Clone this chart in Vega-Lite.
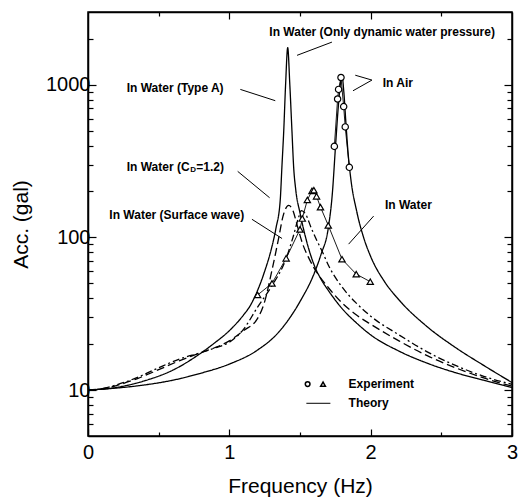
{
 "$schema": "https://vega.github.io/schema/vega-lite/v6.json",
 "width": 424, "height": 424,
 "autosize": {"type": "none"},
 "padding": {"left": 88, "top": 12, "right": 9, "bottom": 64},
 "background": "white",
 "config": {
  "view": {"stroke": "black", "strokeWidth": 1.5},
  "font": "Liberation Sans",
  "axis": {"grid": false, "domainColor": "black", "domainWidth": 1.5, "tickColor": "black", "tickWidth": 1.2, "labelColor": "black", "titleColor": "black", "labelFont": "Liberation Sans", "titleFont": "Liberation Sans"}
 },
 "datasets": {
  "curves": [
   {"s":"A","f":0,"v":10},{"s":"A","f":0.2,"v":10.4},{"s":"A","f":0.4,"v":11.5},{"s":"A","f":0.6,"v":13.5},{"s":"A","f":0.8,"v":17.5},{"s":"A","f":0.9,"v":20.5},{"s":"A","f":1.0,"v":24.5},{"s":"A","f":1.1,"v":31},{"s":"A","f":1.15,"v":36},{"s":"A","f":1.2,"v":45},{"s":"A","f":1.25,"v":60},{"s":"A","f":1.3,"v":86},{"s":"A","f":1.33,"v":115},{"s":"A","f":1.36,"v":175},{"s":"A","f":1.372,"v":290},{"s":"A","f":1.385,"v":500},{"s":"A","f":1.398,"v":1000},{"s":"A","f":1.413,"v":1750},{"s":"A","f":1.428,"v":1000},{"s":"A","f":1.443,"v":500},{"s":"A","f":1.455,"v":290},{"s":"A","f":1.47,"v":205},{"s":"A","f":1.5,"v":145},{"s":"A","f":1.55,"v":92},{"s":"A","f":1.6,"v":66},{"s":"A","f":1.65,"v":53},{"s":"A","f":1.7,"v":45},{"s":"A","f":1.8,"v":34},{"s":"A","f":1.9,"v":27.5},{"s":"A","f":2.0,"v":23},{"s":"A","f":2.2,"v":18},{"s":"A","f":2.4,"v":15},{"s":"A","f":2.6,"v":13},{"s":"A","f":2.8,"v":11.6},{"s":"A","f":3.0,"v":10.4},
   {"s":"B","f":0,"v":10},{"s":"B","f":0.2,"v":10.3},{"s":"B","f":0.4,"v":10.8},{"s":"B","f":0.6,"v":11.6},{"s":"B","f":0.8,"v":12.9},{"s":"B","f":1.0,"v":14.8},{"s":"B","f":1.2,"v":18.3},{"s":"B","f":1.35,"v":24},{"s":"B","f":1.5,"v":38},{"s":"B","f":1.6,"v":58},{"s":"B","f":1.65,"v":78},{"s":"B","f":1.7,"v":115},{"s":"B","f":1.73,"v":200},{"s":"B","f":1.75,"v":380},{"s":"B","f":1.77,"v":700},{"s":"B","f":1.785,"v":1000},{"s":"B","f":1.797,"v":1150},{"s":"B","f":1.81,"v":900},{"s":"B","f":1.825,"v":560},{"s":"B","f":1.84,"v":360},{"s":"B","f":1.86,"v":240},{"s":"B","f":1.9,"v":150},{"s":"B","f":1.95,"v":100},{"s":"B","f":2.0,"v":75},{"s":"B","f":2.1,"v":51},{"s":"B","f":2.2,"v":39},{"s":"B","f":2.4,"v":26},{"s":"B","f":2.6,"v":19},{"s":"B","f":2.8,"v":14.5},{"s":"B","f":3.0,"v":11.2},
   {"s":"C","f":0,"v":10},{"s":"C","f":0.1,"v":10.2},{"s":"C","f":0.2,"v":10.7},{"s":"C","f":0.35,"v":11.9},{"s":"C","f":0.5,"v":13.6},{"s":"C","f":0.65,"v":15.6},{"s":"C","f":0.8,"v":17.6},{"s":"C","f":0.9,"v":19},{"s":"C","f":1.0,"v":21},{"s":"C","f":1.1,"v":24.5},{"s":"C","f":1.2,"v":29.5},{"s":"C","f":1.25,"v":38},{"s":"C","f":1.3,"v":60},{"s":"C","f":1.35,"v":100},{"s":"C","f":1.38,"v":138},{"s":"C","f":1.42,"v":162},{"s":"C","f":1.45,"v":150},{"s":"C","f":1.48,"v":120},{"s":"C","f":1.52,"v":90},{"s":"C","f":1.56,"v":74},{"s":"C","f":1.6,"v":63},{"s":"C","f":1.7,"v":47},{"s":"C","f":1.8,"v":37},{"s":"C","f":1.9,"v":31},{"s":"C","f":2.0,"v":27},{"s":"C","f":2.2,"v":21},{"s":"C","f":2.4,"v":16.8},{"s":"C","f":2.6,"v":14},{"s":"C","f":2.8,"v":12},{"s":"C","f":3.0,"v":10.6},
   {"s":"D","f":0,"v":10},{"s":"D","f":0.1,"v":10.2},{"s":"D","f":0.2,"v":10.8},{"s":"D","f":0.35,"v":12.1},{"s":"D","f":0.5,"v":14},{"s":"D","f":0.65,"v":16},{"s":"D","f":0.8,"v":17.6},{"s":"D","f":0.9,"v":18.9},{"s":"D","f":1.0,"v":20.6},{"s":"D","f":1.1,"v":25},{"s":"D","f":1.2,"v":35},{"s":"D","f":1.3,"v":48},{"s":"D","f":1.4,"v":72},{"s":"D","f":1.45,"v":100},{"s":"D","f":1.49,"v":135},{"s":"D","f":1.51,"v":150},{"s":"D","f":1.54,"v":142},{"s":"D","f":1.58,"v":115},{"s":"D","f":1.62,"v":95},{"s":"D","f":1.66,"v":80},{"s":"D","f":1.7,"v":66},{"s":"D","f":1.8,"v":47},{"s":"D","f":1.9,"v":37},{"s":"D","f":2.0,"v":30.5},{"s":"D","f":2.2,"v":23},{"s":"D","f":2.4,"v":17.8},{"s":"D","f":2.6,"v":14.5},{"s":"D","f":2.8,"v":12.3},{"s":"D","f":3.0,"v":10.9}
  ],
  "air": [
   {"f":1.743,"v":395},{"f":1.766,"v":807},{"f":1.773,"v":933},{"f":1.79,"v":1117},{"f":1.809,"v":720},{"f":1.82,"v":530},{"f":1.849,"v":288}
  ],
  "water": [
   {"f":1.2,"v":42},{"f":1.302,"v":50},{"f":1.402,"v":73},{"f":1.5,"v":113},{"f":1.516,"v":133},{"f":1.552,"v":176},{"f":1.585,"v":202},{"f":1.598,"v":204},{"f":1.617,"v":186},{"f":1.645,"v":158},{"f":1.7,"v":120},{"f":1.797,"v":72},{"f":1.898,"v":57.5},{"f":1.997,"v":51.3}
  ],
  "labels": [
   {"t":"In Water (Only dynamic water pressure)","f":1.283,"v":2213},
   {"t":"In Water (Type A)","f":0.274,"v":947},
   {"t":"In Air","f":2.085,"v":1030},
   {"t":"In Water (Surface wave)","f":0.151,"v":139.5},
   {"t":"In Water","f":2.101,"v":162.8},
   {"t":"Experiment","f":1.844,"v":10.94},
   {"t":"Theory","f":1.844,"v":8.19}
  ],
  "cd": [{"f":0.274,"v":288}],
  "ptr": [
   {"f1":1.726,"v1":1905,"f2":1.479,"v2":1560},
   {"f1":1.078,"v1":933,"f2":1.325,"v2":787},
   {"f1":1.891,"v1":1156,"f2":2.009,"v2":1074},
   {"f1":2.009,"v1":1074,"f2":1.875,"v2":914},
   {"f1":1.059,"v1":271,"f2":1.285,"v2":182},
   {"f1":1.16,"v1":131.5,"f2":1.373,"v2":98.4},
   {"f1":2.021,"v1":138,"f2":1.844,"v2":90.4},
   {"f1":1.545,"v1":8.19,"f2":1.715,"v2":8.19}
  ],
  "leg": [
   {"k":"circle","f":1.554,"v":10.94},
   {"k":"triangle-up","f":1.663,"v":10.94}
  ]
 },
 "layer": [
  {
   "data": {"name": "curves"},
   "mark": {"type": "line", "color": "black", "strokeWidth": 1.3, "interpolate": "monotone"},
   "encoding": {
    "x": {"field": "f", "type": "quantitative", "scale": {"domain": [0, 3], "nice": false, "zero": false},
     "axis": {"orient": "bottom", "values": [0, 0.5, 1, 1.5, 2, 2.5, 3],
      "labelExpr": "datum.value % 1 === 0 ? format(datum.value, 'd') : ''",
      "tickSize": {"condition": {"test": "datum.value % 1 === 0", "value": -7}, "value": -4},
      "labelFontSize": 20, "labelPadding": 13, "labelFlush": false, "labelOverlap": false,
      "title": "Frequency (Hz)", "titleFontSize": 21, "titleFontWeight": "normal", "titlePadding": 10}},
    "y": {"field": "v", "type": "quantitative", "scale": {"type": "log", "domain": [5, 3000], "nice": false},
     "axis": {"orient": "left", "values": [6,7,8,9,10,20,30,40,50,60,70,80,90,100,200,300,400,500,600,700,800,900,1000,2000],
      "labelExpr": "datum.value == 10 || datum.value == 100 || datum.value == 1000 ? format(datum.value, 'd') : ''",
      "tickSize": {"condition": {"test": "datum.value == 10 || datum.value == 100 || datum.value == 1000", "value": -8}, "value": -5},
      "labelFontSize": 20, "labelPadding": 6, "labelOverlap": false,
      "title": "Acc. (gal)", "titleFontSize": 21, "titleFontWeight": "normal", "titlePadding": 14}},
    "detail": {"field": "s"},
    "strokeDash": {"field": "s", "type": "nominal", "scale": {"domain": ["A", "B", "C", "D"], "range": [[1, 0], [1, 0], [8, 4], [7, 3, 2, 3]]}, "legend": null}
   }
  },
  {
   "data": {"name": "air"},
   "mark": {"type": "line", "color": "black", "strokeWidth": 0.9},
   "encoding": {
    "x": {"field": "f", "type": "quantitative", "axis": null},
    "y": {"field": "v", "type": "quantitative", "axis": null}
   }
  },
  {
   "data": {"name": "air"},
   "mark": {"type": "point", "shape": "circle", "filled": true, "fill": "white", "stroke": "black", "strokeWidth": 1.2, "size": 40, "opacity": 1},
   "encoding": {
    "x": {"field": "f", "type": "quantitative", "axis": null},
    "y": {"field": "v", "type": "quantitative", "axis": null}
   }
  },
  {
   "data": {"name": "water"},
   "mark": {"type": "line", "color": "black", "strokeWidth": 0.9},
   "encoding": {
    "x": {"field": "f", "type": "quantitative", "axis": null},
    "y": {"field": "v", "type": "quantitative", "axis": null}
   }
  },
  {
   "data": {"name": "water"},
   "mark": {"type": "point", "shape": "triangle-up", "filled": true, "fill": "white", "stroke": "black", "strokeWidth": 1.2, "size": 40, "opacity": 1},
   "encoding": {
    "x": {"field": "f", "type": "quantitative", "axis": null},
    "y": {"field": "v", "type": "quantitative", "axis": null}
   }
  },
  {
   "data": {"name": "leg"},
   "mark": {"type": "point", "filled": false, "stroke": "black", "strokeWidth": 1.5, "size": 22, "opacity": 1},
   "encoding": {
    "x": {"field": "f", "type": "quantitative", "axis": null},
    "y": {"field": "v", "type": "quantitative", "axis": null},
    "shape": {"field": "k", "type": "nominal", "scale": {"domain": ["circle", "triangle-up"], "range": ["circle", "triangle-up"]}, "legend": null}
   }
  },
  {
   "data": {"name": "labels"},
   "mark": {"type": "text", "align": "left", "baseline": "middle", "fontSize": 12, "fontWeight": "bold", "font": "Liberation Sans", "color": "black"},
   "encoding": {
    "x": {"field": "f", "type": "quantitative", "axis": null},
    "y": {"field": "v", "type": "quantitative", "axis": null},
    "text": {"field": "t"}
   }
  },
  {
   "data": {"name": "cd"},
   "mark": {"type": "text", "align": "left", "baseline": "middle", "fontSize": 12, "fontWeight": "bold", "font": "Liberation Sans", "color": "black", "text": "In Water (C"},
   "encoding": {
    "x": {"field": "f", "type": "quantitative", "axis": null},
    "y": {"field": "v", "type": "quantitative", "axis": null}
   }
  },
  {
   "data": {"name": "cd"},
   "mark": {"type": "text", "align": "left", "baseline": "middle", "fontSize": 8, "fontWeight": "bold", "font": "Liberation Sans", "color": "black", "text": "D", "dx": 63.5, "dy": 3},
   "encoding": {
    "x": {"field": "f", "type": "quantitative", "axis": null},
    "y": {"field": "v", "type": "quantitative", "axis": null}
   }
  },
  {
   "data": {"name": "cd"},
   "mark": {"type": "text", "align": "left", "baseline": "middle", "fontSize": 12, "fontWeight": "bold", "font": "Liberation Sans", "color": "black", "text": "=1.2)", "dx": 69.5},
   "encoding": {
    "x": {"field": "f", "type": "quantitative", "axis": null},
    "y": {"field": "v", "type": "quantitative", "axis": null}
   }
  },
  {
   "data": {"name": "ptr"},
   "mark": {"type": "rule", "color": "black", "strokeWidth": 1},
   "encoding": {
    "x": {"field": "f1", "type": "quantitative",
     "axis": {"orient": "top", "values": [0.5, 1, 1.5, 2, 2.5], "labels": false, "title": null,
      "tickSize": {"condition": {"test": "datum.value % 1 === 0", "value": -7}, "value": -4}}},
    "y": {"field": "v1", "type": "quantitative",
     "axis": {"orient": "right", "values": [6,7,8,9,10,20,30,40,50,60,70,80,90,100,200,300,400,500,600,700,800,900,1000,2000], "labels": false, "title": null,
      "tickSize": {"condition": {"test": "datum.value == 10 || datum.value == 100 || datum.value == 1000", "value": -8}, "value": -5}}},
    "x2": {"field": "f2"},
    "y2": {"field": "v2"}
   }
  }
 ],
 "resolve": {"axis": {"x": "independent", "y": "independent"}}
}
